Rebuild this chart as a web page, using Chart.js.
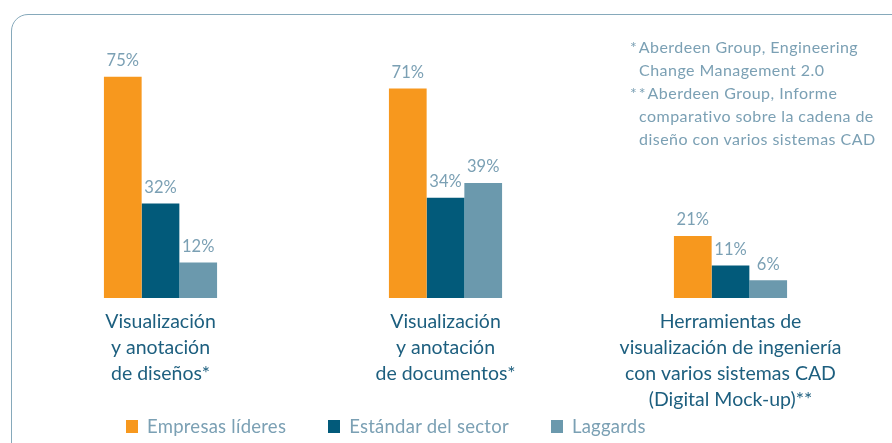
<!DOCTYPE html>
<html>
<head>
<meta charset="utf-8">
<script src="https://cdn.jsdelivr.net/npm/chart.js@4.4.0/dist/chart.umd.min.js"></script>
<style>
  html, body { margin:0; padding:0; background:#fff; }
  body { width:892px; height:443px; position:relative; overflow:hidden; font-family:"Lato", sans-serif; }
  #frame { position:absolute; left:11px; top:14px; width:900px; height:460px; border:1.5px solid #86a9bb; border-top-left-radius:17px; box-sizing:border-box; }
  #wrap { position:absolute; left:0; top:0; width:892px; height:443px; }
  #notes { position:absolute; left:630px; top:35px; font-size:16px; letter-spacing:0.45px; line-height:23px; color:#7ba0b4; white-space:pre; }
  #notes .st { letter-spacing:2px; }
  #legend { position:absolute; top:415px; left:126px; display:flex; font-size:18.5px; letter-spacing:0.25px; color:#7ba0b4; line-height:22px; }
  #legend .item { display:flex; align-items:center; margin-right:42px; }
  #legend .box { width:12px; height:13px; margin-right:9px; }
</style>
</head>
<body>
<div id="frame"></div>
<div id="wrap"><canvas id="c" width="892" height="443"></canvas></div>
<div id="notes"></div>
<div id="legend"></div>
<script>
const categories = [
  ["Visualización", "y anotación", "de diseños*"],
  ["Visualización", "y anotación", "de documentos*"],
  ["Herramientas de", "visualización de ingeniería", "con varios sistemas CAD", "(Digital Mock-up)**"]
];
const seriesNames = ["Empresas líderes", "Estándar del sector", "Laggards"];
const lideres = [75, 71, 21];
const estandar = [32, 34, 11];
const laggards = [12, 39, 6];
const seriesColors = ["#f7981e", "#025a7a", "#6b99ad"];
const footnotes = [
  "*Aberdeen Group, Engineering",
  "  Change Management 2.0",
  "**Aberdeen Group, Informe",
  "  comparativo sobre la cadena de",
  "  diseño con varios sistemas CAD"
];

const notes = document.getElementById('notes');
footnotes.forEach((line, i) => {
  const m = line.match(/^(\**)(.*)$/);
  if (m[1]) {
    const s = document.createElement('span');
    s.className = 'st';
    s.textContent = m[1];
    notes.appendChild(s);
  }
  notes.appendChild(document.createTextNode(m[2] + (i < footnotes.length - 1 ? "\n" : "")));
});

const valueLabels = {
  id: 'valueLabels',
  afterDatasetsDraw(chart) {
    const ctx = chart.ctx;
    ctx.save();
    ctx.font = '16.5px Lato, sans-serif';
    ctx.fillStyle = '#7ba0b4';
    ctx.textAlign = 'center';
    ctx.textBaseline = 'middle';
    chart.data.datasets.forEach((ds, i) => {
      chart.getDatasetMeta(i).data.forEach((el, j) => {
        ctx.fillText(ds.data[j] + '%', el.x, el.y - 16);
      });
    });
    ctx.restore();
  }
};

const datasets = [lideres, estandar, laggards].map((d, i) => ({
  label: seriesNames[i],
  data: d,
  backgroundColor: seriesColors[i],
  borderWidth: 0,
  categoryPercentage: 0.397,
  barPercentage: 1.0
}));

const chart = new Chart(document.getElementById('c'), {
  type: 'bar',
  data: { labels: categories, datasets },
  options: {
    responsive: false,
    animation: false,
    layout: { padding: { left: 18, right: 19, top: 3, bottom: 0 } },
    plugins: { legend: { display: false }, tooltip: { enabled: false } },
    scales: {
      x: {
        grid: { display: false, drawTicks: false },
        border: { display: false },
        ticks: {
          color: '#1d5f7f',
          font: { family: 'Lato, sans-serif', size: 19.5, lineHeight: 1.33 },
          padding: 11,
          maxRotation: 0,
          autoSkip: false
        },
        afterFit(scale) { scale.height = 145; }
      },
      y: {
        display: false,
        min: 0,
        max: 100
      }
    }
  },
  plugins: [valueLabels]
});

const legend = document.getElementById('legend');
seriesNames.forEach((n, i) => {
  const it = document.createElement('div');
  it.className = 'item';
  const b = document.createElement('span');
  b.className = 'box';
  b.style.background = seriesColors[i];
  const t = document.createElement('span');
  t.textContent = n;
  it.appendChild(b); it.appendChild(t);
  legend.appendChild(it);
});
</script>
</body>
</html>
